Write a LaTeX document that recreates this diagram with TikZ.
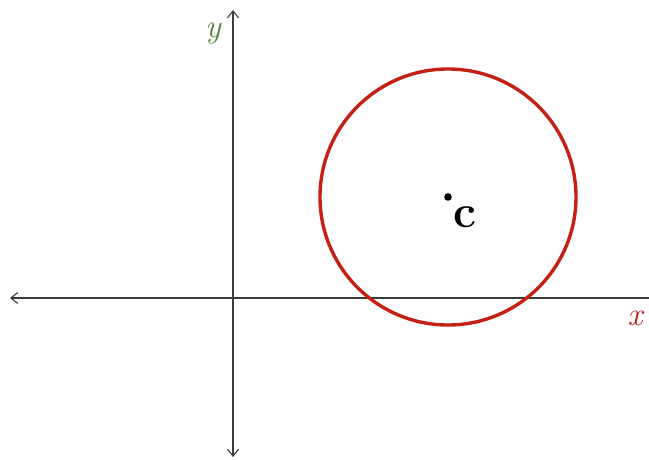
\documentclass[tikz,border=0pt]{standalone}
\usetikzlibrary{arrows.meta}
\definecolor{circred}{RGB}{196,32,22}
\definecolor{xred}{RGB}{178,34,24}
\definecolor{ygreen}{RGB}{84,130,62}
\definecolor{axisgray}{RGB}{60,60,60}
\tikzset{
  axis/.style={draw=axisgray, line width=1.1pt, -{Straight Barb[length=7pt,width=11pt,line width=1.1pt]}},
  axislabel/.style={anchor=base, inner sep=0pt, font=\fontsize{33}{36}\selectfont\itshape},
}
\begin{document}
\begin{tikzpicture}[x=1pt,y=1pt]
\useasboundingbox (0,0) rectangle (649,459);
\coordinate (O) at (233,161);
\coordinate (xl) at (10,161);
\coordinate (xr) at (652,161);
\coordinate (yt) at (233,449);
\coordinate (yb) at (233,2);
\coordinate (C) at (448,262);
\draw[axis] (xr) -- (xl);
\draw[axis] (O) -- (yt);
\draw[axis] (O) -- (yb);
\draw[draw=circred, line width=3.4pt] (C) circle[radius=128];
\fill (C) circle[radius=3.8];
\node[anchor=base, inner sep=0pt, font=\fontsize{40}{44}\selectfont\bfseries] (clab) at (465,231) {\scalebox{1.15}{c}};
\node[axislabel, text=ygreen] (ylab) at (213,421) {y};
\node[axislabel, text=xred] (xlab) at (635,134) {x};
\end{tikzpicture}
\end{document}
